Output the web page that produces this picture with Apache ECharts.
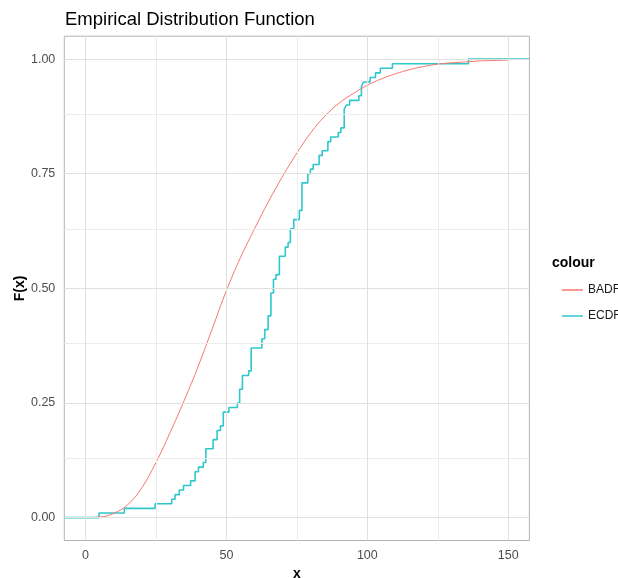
<!DOCTYPE html>
<html>
<head>
<meta charset="utf-8">
<script src="https://cdn.jsdelivr.net/npm/echarts@6/dist/echarts.min.js"></script>
<style>
html,body{margin:0;padding:0;background:#fff;}
#main{width:618px;height:578px;}
</style>
</head>
<body>
<div id="main"></div>
<script>
// ---- data ----
const ecdfX = [-7.5, 4.8, 13.8, 24.7, 30.6, 31.8, 33.3, 34.8, 37.3, 38.9, 40.1, 41.8, 42.7, 45.3, 46.7, 47.9, 48.9, 50.9, 53.9, 54.7, 55.7, 57.9, 58.8, 62.6, 63.6, 64.8, 65.8, 66.7, 67.6, 68.8, 70.9, 71.9, 72.7, 73.9, 75.9, 76.8, 78.9, 79.8, 80.8, 82.9, 84.0, 86.0, 87.0, 89.7, 90.6, 91.8, 92.5, 93.7, 97.0, 97.9, 98.6, 101.0, 102.9, 104.6, 108.9, 135.9, 157.5];
const ecdfY = [0, 0.01, 0.02, 0.03, 0.04, 0.05, 0.06, 0.07, 0.08, 0.10, 0.11, 0.12, 0.15, 0.17, 0.19, 0.20, 0.23, 0.24, 0.25, 0.28, 0.31, 0.32, 0.37, 0.39, 0.41, 0.44, 0.49, 0.52, 0.53, 0.57, 0.59, 0.60, 0.63, 0.65, 0.67, 0.73, 0.75, 0.76, 0.77, 0.79, 0.80, 0.82, 0.83, 0.84, 0.85, 0.89, 0.90, 0.91, 0.92, 0.94, 0.95, 0.96, 0.97, 0.98, 0.99, 1.00, 1.00];
const badfX = [0, 5, 10, 15, 20, 25, 30, 35, 40, 45, 50, 55, 60, 65, 70, 75, 80, 85, 90, 95, 100, 105, 110, 115, 120, 125, 130, 135, 140, 145, 150];
const badfY = [0, 0.001, 0.009, 0.028, 0.065, 0.12, 0.185, 0.255, 0.33, 0.412, 0.495, 0.567, 0.63, 0.69, 0.745, 0.795, 0.84, 0.876, 0.904, 0.925, 0.943, 0.957, 0.968, 0.977, 0.984, 0.989, 0.992, 0.994, 0.996, 0.997, 0.998];
const xMajor = [0, 50, 100, 150];
const xMinor = [25, 75, 125];
const yMajor = [0, 0.25, 0.5, 0.75, 1];
const yMinor = [0.125, 0.375, 0.625, 0.875];
const seriesNames = ['BADF', 'ECDF'];

const pairs = (xs, ys) => xs.map((x, i) => [x, ys[i]]);
const FONT = 'Liberation Sans, Arial, sans-serif';

const gridLines = [];
xMinor.forEach(v => gridLines.push({xAxis: v, lineStyle: {color: '#ececec', width: 1, type: 'solid'}}));
yMinor.forEach(v => gridLines.push({yAxis: v, lineStyle: {color: '#ececec', width: 1, type: 'solid'}}));
xMajor.forEach(v => gridLines.push({xAxis: v, lineStyle: {color: '#e0e0e0', width: 1, type: 'solid'}}));
yMajor.forEach(v => gridLines.push({yAxis: v, lineStyle: {color: '#e0e0e0', width: 1, type: 'solid'}}));

const chart = echarts.init(document.getElementById('main'), null, {renderer: 'canvas'});
chart.setOption({
  animation: false,
  backgroundColor: '#ffffff',
  title: [
    {text: 'Empirical Distribution Function', left: 60, top: 5,
     textStyle: {fontFamily: FONT, fontSize: 18.5, fontWeight: 'normal', color: '#000'}},
    {text: 'colour', left: 547, top: 251,
     textStyle: {fontFamily: FONT, fontSize: 14, fontWeight: 'bold', color: '#000'}}
  ],
  legend: {
    data: seriesNames,
    orient: 'vertical',
    left: 557, top: 279,
    icon: 'rect', itemWidth: 21, itemHeight: 1.5, itemGap: 14,
    textStyle: {fontFamily: FONT, fontSize: 12, color: '#1a1a1a'},
    selectedMode: false
  },
  grid: {left: 64.3, right: 88.6, top: 36.2, bottom: 37.5, show: true,
         borderColor: '#b3b3b3', borderWidth: 1, containLabel: false, outerBoundsMode: 'none'},
  xAxis: {
    type: 'value', min: -7.5, max: 157.5,
    name: 'x', nameLocation: 'middle', nameGap: 25,
    nameTextStyle: {fontFamily: FONT, fontSize: 14, fontWeight: 'bold', color: '#000'},
    axisLine: {show: false},
    axisTick: {show: true, customValues: xMajor, length: 4, lineStyle: {color: '#b3b3b3'}},
    axisLabel: {customValues: xMajor, fontFamily: FONT, fontSize: 12.5, color: '#4d4d4d', margin: 9},
    splitLine: {show: false}
  },
  yAxis: {
    type: 'value', min: -0.05, max: 1.05,
    name: 'F(x)', nameLocation: 'middle', nameGap: 37, nameRotate: 90, nameMoveOverlap: false,
    nameTextStyle: {fontFamily: FONT, fontSize: 14, fontWeight: 'bold', color: '#000'},
    axisLine: {show: false},
    axisTick: {show: true, customValues: yMajor, length: 4, lineStyle: {color: '#b3b3b3'}},
    axisLabel: {customValues: yMajor, fontFamily: FONT, fontSize: 12.5, color: '#4d4d4d', margin: 9,
                formatter: v => v.toFixed(2)},
    splitLine: {show: false}
  },
  series: [
    {type: 'line', name: '_grid', data: [], silent: true, z: 0,
     markLine: {silent: true, symbol: 'none', label: {show: false}, animation: false, data: gridLines}},
    {type: 'line', name: 'BADF', data: pairs(badfX, badfY), smooth: 0.4, showSymbol: false,
     lineStyle: {color: '#F8766D', width: 1}, itemStyle: {color: '#F8766D'}, z: 3},
    {type: 'line', name: 'ECDF', data: pairs(ecdfX, ecdfY), step: 'end', showSymbol: false,
     lineStyle: {color: '#2EC8CC', width: 1.6}, itemStyle: {color: '#2EC8CC'}, z: 2}
  ]
});
</script>
</body>
</html>
